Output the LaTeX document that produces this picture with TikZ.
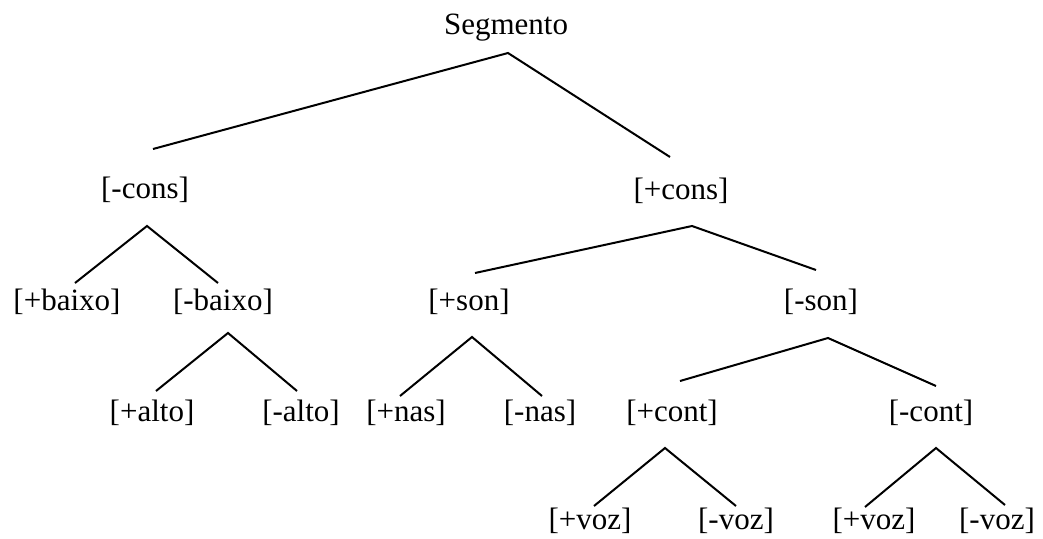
\documentclass[tikz,border=0pt]{standalone}
\usepackage{fontspec}
\setmainfont{Liberation Serif}
\begin{document}
\begin{tikzpicture}[x=1pt,y=-1pt,
  lab/.style={inner sep=0pt,anchor=center,font=\fontsize{31}{36}\selectfont},
  branch/.style={line width=2pt,line join=miter,line cap=butt}]
\useasboundingbox (0,0) rectangle (1043,538);
% nodes
\node[lab] (seg) at (506,28) {Segmento};
\node[lab] (mcons) at (145,190) {[-cons]};
\node[lab] (pcons) at (681,191) {[+cons]};
\node[lab] (pbaixo) at (67,302) {[+baixo]};
\node[lab] (mbaixo) at (223,302) {[-baixo]};
\node[lab] (pson) at (469,302) {[+son]};
\node[lab] (mson) at (821,302) {[-son]};
\node[lab] (palto) at (152,413) {[+alto]};
\node[lab] (malto) at (301,413) {[-alto]};
\node[lab] (pnas) at (406,413) {[+nas]};
\node[lab] (mnas) at (540,413) {[-nas]};
\node[lab] (pcont) at (672,413) {[+cont]};
\node[lab] (mcont) at (931,413) {[-cont]};
\node[lab] (pvoza) at (590,521) {[+voz]};
\node[lab] (mvoza) at (736,521) {[-voz]};
\node[lab] (pvozb) at (874,521) {[+voz]};
\node[lab] (mvozb) at (997,521) {[-voz]};
% branch points
\coordinate (seg-a) at (508,53);
\coordinate (mcons-t) at (153,149);
\coordinate (pcons-t) at (670,157);
\coordinate (mcons-a) at (147,226);
\coordinate (pbaixo-t) at (75,283);
\coordinate (mbaixo-t) at (218,283);
\coordinate (pcons-a) at (692,226);
\coordinate (pson-t) at (475,273);
\coordinate (mson-t) at (816,270);
\coordinate (mbaixo-a) at (228,333);
\coordinate (palto-t) at (156,391);
\coordinate (malto-t) at (297,391);
\coordinate (pson-a) at (472,337);
\coordinate (pnas-t) at (400,396);
\coordinate (mnas-t) at (542,396);
\coordinate (mson-a) at (828,338);
\coordinate (pcont-t) at (680,381);
\coordinate (mcont-t) at (936,386);
\coordinate (pcont-a) at (665,448);
\coordinate (pvoza-t) at (594,506);
\coordinate (mvoza-t) at (736,506);
\coordinate (mcont-a) at (936,448);
\coordinate (pvozb-t) at (865,507);
\coordinate (mvozb-t) at (1005,505);
% connectors
\draw[branch] (mcons-t) -- (seg-a) -- (pcons-t);
\draw[branch] (pbaixo-t) -- (mcons-a) -- (mbaixo-t);
\draw[branch] (pson-t) -- (pcons-a) -- (mson-t);
\draw[branch] (palto-t) -- (mbaixo-a) -- (malto-t);
\draw[branch] (pnas-t) -- (pson-a) -- (mnas-t);
\draw[branch] (pcont-t) -- (mson-a) -- (mcont-t);
\draw[branch] (pvoza-t) -- (pcont-a) -- (mvoza-t);
\draw[branch] (pvozb-t) -- (mcont-a) -- (mvozb-t);
\end{tikzpicture}
\end{document}
